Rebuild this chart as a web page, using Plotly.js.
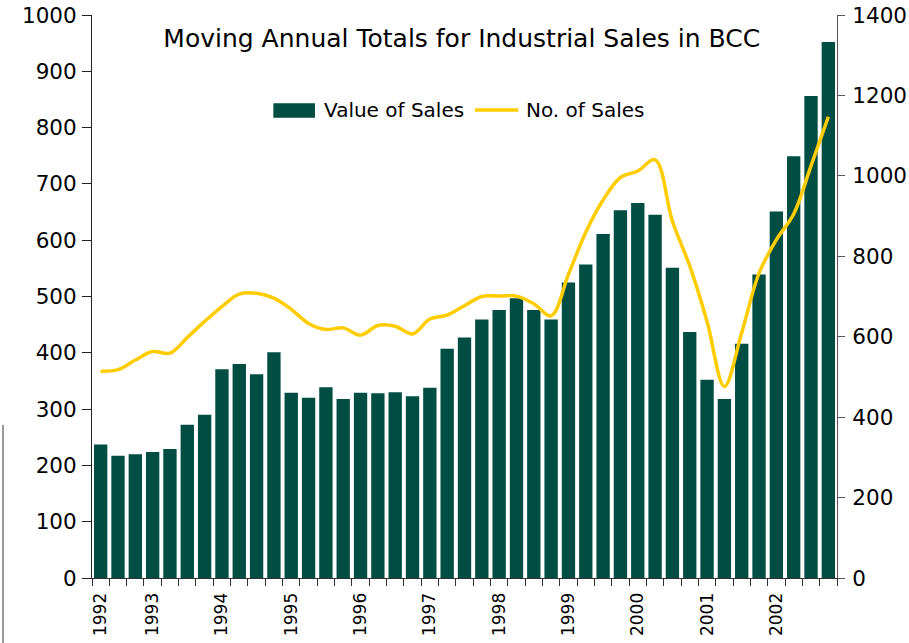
<!DOCTYPE html>
<html>
<head>
<meta charset="utf-8">
<script src="https://cdn.plot.ly/plotly-3.0.1.min.js"></script>
<style>
  body { margin: 0; background: #fff; }
  #myDiv { width: 909px; height: 643px; }
</style>
</head>
<body>
<div id="myDiv"></div>
<script>
// quarters on the x axis (one bar per quarter)
var quarters = [
  "1992 Q4",
  "1993 Q1", "1993 Q2", "1993 Q3", "1993 Q4",
  "1994 Q1", "1994 Q2", "1994 Q3", "1994 Q4",
  "1995 Q1", "1995 Q2", "1995 Q3", "1995 Q4",
  "1996 Q1", "1996 Q2", "1996 Q3", "1996 Q4",
  "1997 Q1", "1997 Q2", "1997 Q3", "1997 Q4",
  "1998 Q1", "1998 Q2", "1998 Q3", "1998 Q4",
  "1999 Q1", "1999 Q2", "1999 Q3", "1999 Q4",
  "2000 Q1", "2000 Q2", "2000 Q3", "2000 Q4",
  "2001 Q1", "2001 Q2", "2001 Q3", "2001 Q4",
  "2002 Q1", "2002 Q2", "2002 Q3", "2002 Q4",
  "2003 Q1", "2003 Q2"
];

// value of sales (left axis)
var valueOfSales = [
  237,
  217, 220, 224, 229,
  272, 290, 371, 380,
  362, 401, 329, 320,
  339, 318, 329, 328,
  330, 323, 338, 407,
  427, 459, 476, 497,
  476, 459, 525, 557,
  611, 653, 666, 645,
  551, 437, 352, 318,
  416, 539, 651, 749,
  856, 952
];

// number of sales (right axis)
var noOfSales = [
  514,
  518, 542, 563, 559,
  598, 638, 675, 706,
  708, 696, 668, 633,
  618, 622, 604, 628,
  626, 607, 644, 654,
  677, 700, 701, 701,
  682, 652, 755, 860,
  940, 996, 1012, 1040,
  887, 776, 638, 476,
  610, 758, 841, 905,
  1025, 1147
];

// year labels and the quarters they sit on
var yearLabels = ["1992", "1993", "1994", "1995", "1996", "1997", "1998", "1999", "2000", "2001", "2002"];
var yearQuarters = ["1992 Q4", "1993 Q3", "1994 Q3", "1995 Q3", "1996 Q3", "1997 Q3", "1998 Q3", "1999 Q3", "2000 Q3", "2001 Q3", "2002 Q3"];

var seriesNames = ["Value of Sales", "No. of Sales"];

var tickText = quarters.map(function (q) {
  var i = yearQuarters.indexOf(q);
  return i >= 0 ? yearLabels[i] : "";
});

var font = "DejaVu Sans, Verdana, sans-serif";
var barColor = "#004D44";
var lineColor = "#FFCC00";

var data = [
  {
    type: "bar",
    name: seriesNames[0],
    x: quarters,
    y: valueOfSales,
    marker: { color: barColor },
    yaxis: "y",
    hoverinfo: "x+y"
  },
  {
    type: "scatter",
    mode: "lines",
    name: seriesNames[1],
    x: quarters,
    y: noOfSales,
    line: { color: lineColor, width: 3.5, shape: "spline", smoothing: 1 },
    yaxis: "y2",
    hoverinfo: "x+y"
  }
];

var layout = {
  width: 909,
  height: 643,
  margin: { l: 92, r: 72, t: 15, b: 65 },
  paper_bgcolor: "#fff",
  plot_bgcolor: "#fff",
  bargap: 0.23,
  font: { family: font, color: "#000" },
  title: {
    text: "Moving Annual Totals for Industrial Sales in BCC",
    font: { family: font, size: 25, color: "#000" },
    x: 0.508,
    xanchor: "center",
    y: 0.94,
    yanchor: "middle"
  },
  // legend drawn by hand so the bar swatch can be a wide block
  showlegend: false,
  xaxis: {
    type: "category",
    tickmode: "array",
    tickvals: quarters,
    ticktext: tickText,
    tickson: "boundaries",
    tickangle: -90,
    ticks: "outside",
    ticklen: 7,
    tickcolor: "#333",
    tickfont: { family: font, size: 17, color: "#000" },
    ticklabelstandoff: 7,
    showline: true,
    linecolor: "#333",
    showgrid: false,
    zeroline: false
  },
  yaxis: {
    range: [0, 1000],
    dtick: 100,
    ticks: "outside",
    ticklen: 9,
    tickcolor: "#222",
    tickfont: { family: font, size: 21.5, color: "#000" },
    ticklabelstandoff: 1,
    showline: true,
    linecolor: "#222",
    showgrid: false,
    zeroline: false,
    fixedrange: true
  },
  yaxis2: {
    overlaying: "y",
    side: "right",
    range: [0, 1400],
    dtick: 200,
    ticks: "outside",
    ticklen: 7,
    tickcolor: "#555",
    tickfont: { family: font, size: 21.5, color: "#000" },
    ticklabelstandoff: 3,
    showline: true,
    linecolor: "#555",
    showgrid: false,
    zeroline: false,
    fixedrange: true
  },
  shapes: [
    // legend swatches
    {
      type: "rect",
      xref: "paper", yref: "paper",
      x0: 0.2434, x1: 0.2993, y0: 0.8176, y1: 0.8432,
      fillcolor: barColor,
      line: { width: 0 }
    },
    {
      type: "line",
      xref: "paper", yref: "paper",
      x0: 0.5141, x1: 0.5722, y0: 0.8313, y1: 0.8313,
      line: { color: lineColor, width: 3.5 }
    },
    // faint grey edge line at the far left of the picture
    {
      type: "line",
      xref: "paper", yref: "paper",
      x0: -0.1195, x1: -0.1195,
      y0: 0.272, y1: -0.12,
      line: { color: "#999", width: 2 }
    }
  ],
  annotations: [
    {
      xref: "paper", yref: "paper",
      x: 0.3083, y: 0.8313,
      xanchor: "left", yanchor: "middle",
      showarrow: false,
      text: seriesNames[0],
      font: { family: font, size: 20, color: "#000" }
    },
    {
      xref: "paper", yref: "paper",
      x: 0.5803, y: 0.8313,
      xanchor: "left", yanchor: "middle",
      showarrow: false,
      text: seriesNames[1],
      font: { family: font, size: 20, color: "#000" }
    }
  ]
};

Plotly.newPlot("myDiv", data, layout, { displayModeBar: false, staticPlot: true });
</script>
</body>
</html>
